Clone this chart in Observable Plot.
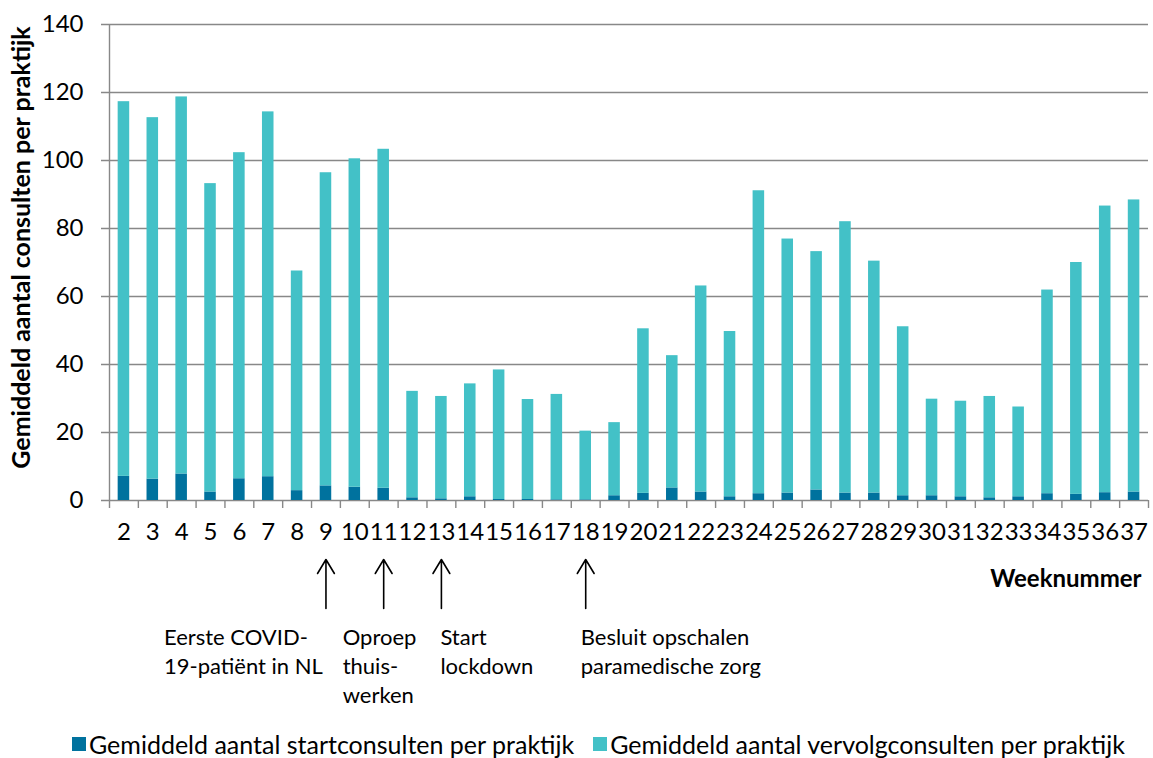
<!DOCTYPE html>
<html><head><meta charset="utf-8">
<script src="https://cdn.jsdelivr.net/npm/d3@7"></script>
<script src="https://cdn.jsdelivr.net/npm/@observablehq/plot@0.6"></script>
<style>
body{margin:0;background:#fff;font-family:Lato,sans-serif;}
#legend{display:flex;align-items:center;height:28px;padding-left:72px;font-size:25px;color:#000;white-space:nowrap;}
#legend .item{display:flex;align-items:center;margin-right:19px;}
#legend .sw{width:14px;height:14px;margin-right:3px;}
</style></head><body>
<div id="chart"></div><div id="legend"></div>
<script>
const weeks = [2,3,4,5,6,7,8,9,10,11,12,13,14,15,16,17,18,19,20,21,22,23,24,25,26,27,28,29,30,31,32,33,34,35,36,37];
const startValues = [7.1,6.3,7.8,2.5,6.4,7.0,2.9,4.3,3.9,3.6,0.8,0.5,1.1,0.3,0.3,0.2,0.2,1.4,2.1,3.7,2.5,1.1,2.0,2.2,3.1,2.2,2.2,1.4,1.4,1.1,0.8,1.1,2.0,1.8,2.3,2.5];
const followValues = [110.2,106.3,110.9,90.7,95.9,107.3,64.6,92.1,96.6,99.7,31.3,30.1,33.2,38.1,29.4,31.0,20.2,21.5,48.4,38.9,60.6,48.6,89.1,74.7,70.1,79.8,68.2,49.7,28.4,28.1,29.8,26.4,59.9,68.2,84.3,85.9];
const seriesNames = ["Gemiddeld aantal startconsulten per praktijk","Gemiddeld aantal vervolgconsulten per praktijk"];
const seriesColors = ["#00729e","#43c1c7"];
const yTicks = [0,20,40,60,80,100,120,140];
const annotationWeeks = [9,11,13,18];
const annotationTexts = ["Eerste COVID-\n19-patiënt in NL","Oproep\nthuis-\nwerken","Start\nlockdown","Besluit opschalen\nparamedische zorg"];
const yTitle = "Gemiddeld aantal consulten per praktijk";
const xTitle = "Weeknummer";

const rows = [];
weeks.forEach((w,i)=>{
  rows.push({week:w, series:seriesNames[0], value:startValues[i]});
  rows.push({week:w, series:seriesNames[1], value:followValues[i]});
});

const W = 1153, H = 730, mL = 109, mR = 5, mT = 24, mB = 230;
const step = (W - mL - mR) / weeks.length;
const pxPerUnit = (H - mT - mB) / 140;
const tickLen = 8 / pxPerUnit;
const gray = "#888888";
const annDx = [-162, -41, -1, -5];

const annMarks = annotationWeeks.map((w,i)=>Plot.text([{week:w, text:annotationTexts[i]}], {
  x:"week", text:"text", frameAnchor:"bottom", textAnchor:"start", lineAnchor:"top",
  dx: annDx[i], dy: 124, fontSize: 22, lineHeight: 1.32, fill:"#000"
}));

const chart = Plot.plot({
  width: W, height: H,
  marginLeft: mL, marginRight: mR, marginTop: mT, marginBottom: mB,
  style: {fontFamily: "Lato, sans-serif", fontSize: "24px", color: "#000", background: "#fff"},
  x: {type: "band", domain: weeks, paddingInner: 0.6, paddingOuter: 0.3},
  y: {domain: [0, 140]},
  color: {domain: seriesNames, range: seriesColors},
  marks: [
    Plot.ruleY(yTicks, {y: d=>d, stroke: gray, strokeWidth: 1.4, insetLeft: -8}),
    Plot.barY(rows, {x:"week", y:"value", fill:"series", z:"series"}),
    Plot.ruleX([weeks[0]], {x: d=>d, dx: -step/2, y1: -tickLen, y2: 140, stroke: gray, strokeWidth: 1.4}),
    Plot.ruleX(weeks, {x: d=>d, dx: step/2, y1: 0, y2: -tickLen, stroke: gray, strokeWidth: 1.4}),
    Plot.axisY({ticks: yTicks, tickSize: 0, tickPadding: 26, label: null, fill: "#000"}),
    Plot.axisX({tickSize: 0, tickPadding: 22, label: null, fill: "#000"}),
    Plot.text([yTitle], {frameAnchor: "left", textAnchor: "middle", rotate: -90, dx: -88, dy: -15, fontWeight: "bold", fontSize: 25, fill: "#000"}),
    Plot.text([xTitle], {frameAnchor: "bottom-right", textAnchor: "end", dx: -7, dy: 86, fontWeight: "bold", fontSize: 24, fill: "#000"}),
    Plot.arrow(annotationWeeks, {x: d=>d, y1: -108/pxPerUnit, y2: -59/pxPerUnit, stroke: "#000", strokeWidth: 1.6, headLength: 16, headAngle: 62}),
    ...annMarks
  ]
});
document.getElementById("chart").appendChild(chart);

const legend = document.getElementById("legend");
seriesNames.forEach((name,i)=>{
  const item = document.createElement("div"); item.className = "item";
  const sw = document.createElement("div"); sw.className = "sw"; sw.style.background = seriesColors[i];
  const tx = document.createElement("span"); tx.textContent = name;
  item.appendChild(sw); item.appendChild(tx); legend.appendChild(item);
});
</script></body></html>
